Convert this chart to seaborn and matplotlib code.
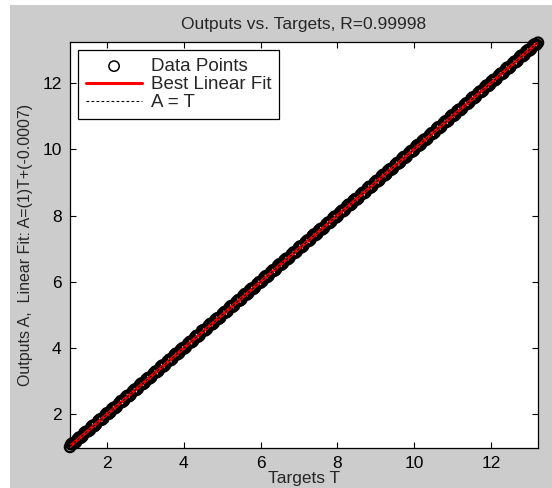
import matplotlib
matplotlib.use('Agg')
import matplotlib.pyplot as plt
import seaborn as sns
import pandas as pd
from matplotlib.patches import Rectangle

# Dados - dois blocos de pontos intercalados
targets_a = [1.03, 1.10, 1.19, 1.27, 1.36, 1.44, 1.55, 1.63, 1.71, 1.82, 1.90, 1.99,
             2.08, 2.17, 2.25, 2.36, 2.44, 2.53, 2.61, 2.72, 2.80, 2.89, 2.98, 3.07,
             3.15, 3.26, 3.34, 3.43, 3.51, 3.62, 3.70, 3.79, 3.88, 3.97, 4.05, 4.16,
             4.24, 4.33, 4.41, 4.52, 4.60, 4.69, 4.78, 4.87, 4.95, 5.06, 5.14, 5.23,
             5.31, 5.42, 5.50, 5.59, 5.68, 5.77, 5.85, 5.96, 6.04, 6.13, 6.21, 6.32,
             6.40, 6.49, 6.58, 6.67, 6.75, 6.86, 6.94, 7.03, 7.11, 7.22, 7.30, 7.39,
             7.48, 7.57, 7.65, 7.76, 7.84, 7.93, 8.01, 8.12, 8.20, 8.29, 8.38, 8.47,
             8.55, 8.66, 8.74, 8.83, 8.91, 9.02, 9.10, 9.19, 9.28, 9.37, 9.45, 9.56,
             9.64, 9.73, 9.81, 9.92, 10.00, 10.09, 10.18, 10.27, 10.35, 10.46, 10.54,
             10.63, 10.71, 10.82, 10.90, 10.99, 11.08, 11.17, 11.25, 11.36, 11.44,
             11.53, 11.61, 11.72, 11.80, 11.89, 11.98, 12.07, 12.15, 12.26, 12.34,
             12.43, 12.51, 12.62, 12.70, 12.79, 12.88, 12.97, 13.05, 13.14, 13.23]
outputs_a = [1.01, 1.13, 1.16, 1.30, 1.34, 1.47, 1.52, 1.66, 1.69, 1.85, 1.87, 2.03,
             2.05, 2.20, 2.22, 2.40, 2.41, 2.56, 2.58, 2.75, 2.77, 2.93, 2.95, 3.10,
             3.12, 3.29, 3.31, 3.47, 3.48, 3.65, 3.67, 3.83, 3.85, 4.00, 4.02, 4.19,
             4.21, 4.37, 4.38, 4.55, 4.57, 4.73, 4.75, 4.90, 4.92, 5.09, 5.11, 5.27,
             5.28, 5.45, 5.47, 5.63, 5.65, 5.80, 5.82, 5.99, 6.01, 6.17, 6.18, 6.35,
             6.37, 6.53, 6.55, 6.70, 6.72, 6.89, 6.91, 7.07, 7.08, 7.25, 7.27, 7.43,
             7.45, 7.60, 7.62, 7.79, 7.81, 7.97, 7.98, 8.15, 8.17, 8.33, 8.35, 8.50,
             8.52, 8.69, 8.71, 8.87, 8.88, 9.05, 9.07, 9.23, 9.25, 9.40, 9.42, 9.59,
             9.61, 9.77, 9.78, 9.95, 9.97, 10.13, 10.15, 10.30, 10.32, 10.49, 10.51,
             10.67, 10.68, 10.85, 10.87, 11.03, 11.05, 11.20, 11.22, 11.39, 11.41,
             11.57, 11.58, 11.75, 11.77, 11.93, 11.95, 12.10, 12.12, 12.29, 12.31,
             12.47, 12.48, 12.65, 12.67, 12.83, 12.85, 13.00, 13.02, 13.17, 13.22]
targets_b = [1.06, 1.15, 1.23, 1.32, 1.40, 1.50, 1.59, 1.67, 1.77, 1.86, 1.95, 2.04,
             2.12, 2.21, 2.31, 2.40, 2.49, 2.57, 2.67, 2.76, 2.85, 2.94, 3.02, 3.11,
             3.21, 3.30, 3.39, 3.47, 3.57, 3.66, 3.75, 3.84, 3.92, 4.01, 4.11, 4.20,
             4.29, 4.37, 4.47, 4.56, 4.65, 4.74, 4.82, 4.91, 5.01, 5.10, 5.19, 5.27,
             5.37, 5.46, 5.55, 5.64, 5.72, 5.81, 5.91, 6.00, 6.09, 6.17, 6.27, 6.36,
             6.45, 6.54, 6.62, 6.71, 6.81, 6.90, 6.99, 7.07, 7.17, 7.26, 7.35, 7.44,
             7.52, 7.61, 7.71, 7.80, 7.89, 7.97, 8.07, 8.16, 8.25, 8.34, 8.42, 8.51,
             8.61, 8.70, 8.79, 8.87, 8.97, 9.06, 9.15, 9.24, 9.32, 9.41, 9.51, 9.60,
             9.69, 9.77, 9.87, 9.96, 10.05, 10.14, 10.22, 10.31, 10.41, 10.50, 10.59,
             10.67, 10.77, 10.86, 10.95, 11.04, 11.12, 11.21, 11.31, 11.40, 11.49,
             11.57, 11.67, 11.76, 11.85, 11.94, 12.02, 12.11, 12.21, 12.30, 12.39,
             12.47, 12.57, 12.66, 12.75, 12.84, 12.92, 13.01, 13.10, 13.19]
outputs_b = [1.09, 1.12, 1.25, 1.29, 1.43, 1.48, 1.62, 1.64, 1.80, 1.83, 1.97, 2.01,
             2.15, 2.18, 2.33, 2.37, 2.52, 2.54, 2.69, 2.73, 2.88, 2.91, 3.05, 3.08,
             3.23, 3.27, 3.42, 3.44, 3.59, 3.63, 3.78, 3.81, 3.95, 3.98, 4.13, 4.17,
             4.32, 4.34, 4.52, 4.53, 4.68, 4.71, 4.85, 4.88, 5.03, 5.07, 5.22, 5.24,
             5.39, 5.43, 5.58, 5.61, 5.75, 5.78, 5.93, 5.97, 6.12, 6.14, 6.29, 6.33,
             6.48, 6.51, 6.65, 6.68, 6.83, 6.87, 7.02, 7.04, 7.19, 7.23, 7.38, 7.41,
             7.55, 7.58, 7.73, 7.77, 7.92, 7.94, 8.09, 8.13, 8.28, 8.31, 8.45, 8.48,
             8.63, 8.67, 8.82, 8.84, 8.99, 9.03, 9.18, 9.21, 9.35, 9.38, 9.53, 9.57,
             9.72, 9.74, 9.89, 9.93, 10.08, 10.11, 10.25, 10.28, 10.43, 10.47, 10.62,
             10.64, 10.79, 10.83, 10.98, 11.01, 11.15, 11.18, 11.33, 11.37, 11.52,
             11.54, 11.69, 11.73, 11.88, 11.91, 12.05, 12.08, 12.23, 12.27, 12.42,
             12.44, 12.59, 12.63, 12.78, 12.81, 12.95, 12.98, 13.13, 13.16]
fit_slope = 1.0
fit_intercept = -0.0007
r_value = '0.99998'
ticks = [2, 4, 6, 8, 10, 12]

dados = pd.DataFrame({'T': targets_a + targets_b, 'A': outputs_a + outputs_b})

sns.set_style('ticks')
plt.rcParams['font.family'] = ['Liberation Sans', 'DejaVu Sans']

fig = plt.figure(figsize=(5.52, 4.88), dpi=100, facecolor='white')
# fundo cinza estilo MATLAB
fig.patches.append(Rectangle((10 / 552, 0), 1, 1 - 5 / 488, transform=fig.transFigure,
                             facecolor='#cccccc', edgecolor='none', zorder=-10))
ax = fig.add_axes([70 / 552, 40 / 488, 468 / 552, 406 / 488])
ax.set_facecolor('white')

tmin, tmax = dados['T'].min(), dados['T'].max()
linha_x = [tmin, tmax]
linha_fit = [fit_slope * v + fit_intercept for v in linha_x]

sns.scatterplot(data=dados, x='T', y='A', ax=ax, marker='o', s=55, facecolors='none',
                edgecolor='black', linewidth=1.6, label='Data Points', clip_on=False, zorder=2)
ax.plot(linha_x, linha_fit, color='red', lw=2.2, label='Best Linear Fit', zorder=3)
ax.plot(linha_x, linha_x, color='black', lw=0.8, ls=(0, (2.5, 2)), label='A = T', zorder=4)

ax.set_xlim(1.03, 13.23)
ax.set_ylim(0.98, 13.24)
ax.set_xticks(ticks)
ax.set_yticks(ticks)
ax.tick_params(direction='in', length=4, width=0.8, top=True, right=True,
               labelsize=12.5, colors='black', pad=6)
for s in ax.spines.values():
    s.set_color('black')
    s.set_linewidth(0.9)

ax.set_title('Outputs vs. Targets, R=' + r_value, fontsize=12.5, pad=9)
ax.set_xlabel('Targets T', fontsize=12.5, labelpad=0)
ax.set_ylabel('Outputs A,  Linear Fit: A=(%d)T+(%g)' % (fit_slope, fit_intercept),
              fontsize=11.5, labelpad=7)

leg = ax.legend(loc='upper left', fontsize=13.5, frameon=True, fancybox=False,
                edgecolor='black', framealpha=1, handlelength=3.0, handletextpad=0.45,
                labelspacing=0.05, borderpad=0.4, borderaxespad=0.45)
leg.get_frame().set_linewidth(0.9)
leg.legend_handles[0].set_linewidth(1.1)

plt.savefig('out.png', dpi=100, facecolor=fig.get_facecolor())
